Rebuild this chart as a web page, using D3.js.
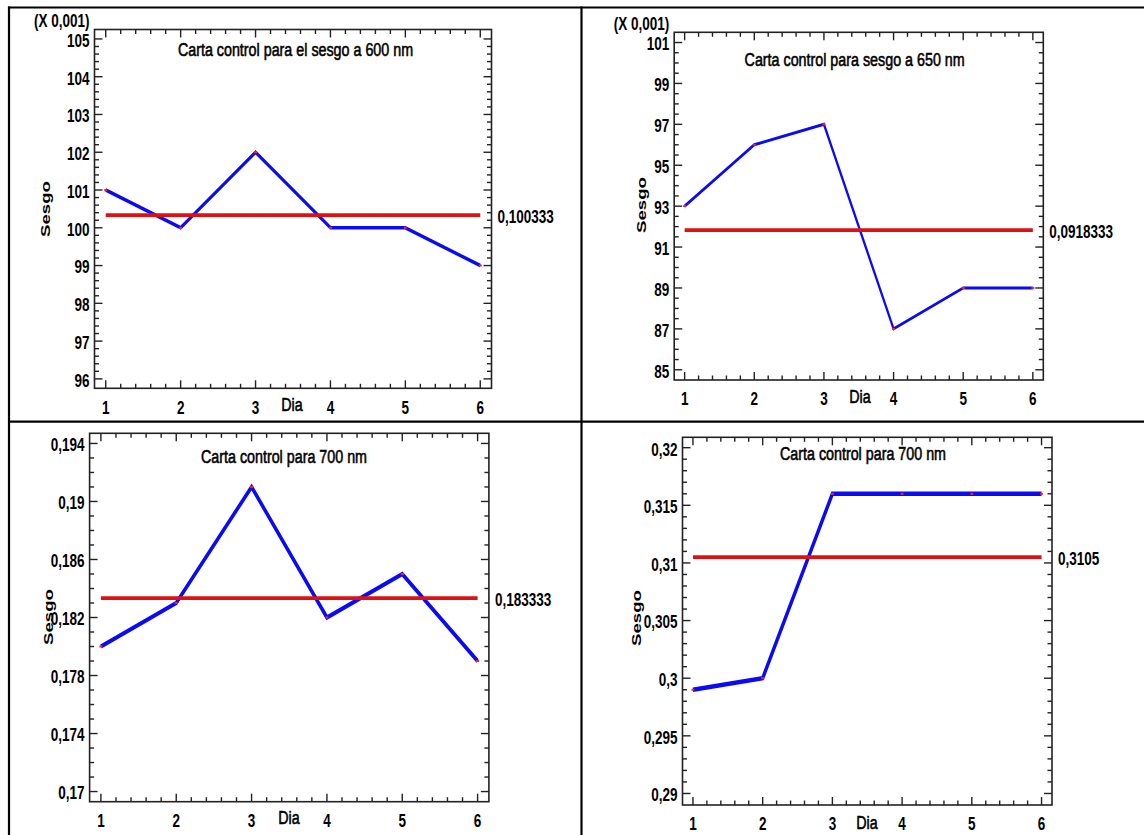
<!DOCTYPE html>
<html>
<head>
<meta charset="utf-8">
<script src="https://cdn.jsdelivr.net/npm/d3@7"></script>
<style>
  html, body { margin: 0; padding: 0; background: #fff; }
  svg { display: block; }
  text { font-family: "Liberation Sans", Arial, sans-serif; fill: #000; }
</style>
</head>
<body>
<svg id="chart" width="1144" height="835"></svg>
<script>
// Días de muestreo
const days = [1, 2, 3, 4, 5, 6];

// Sesgo diario por longitud de onda
const sesgo600 = [0.101, 0.100, 0.102, 0.100, 0.100, 0.099];
const sesgo650 = [0.093, 0.096, 0.097, 0.087, 0.089, 0.089];
const sesgo700a = [0.180, 0.183, 0.191, 0.182, 0.185, 0.179];
const sesgo700b = [0.299, 0.300, 0.316, 0.316, 0.316, 0.316];

// Línea central (media) de cada carta, tal como se rotula
const centerLabels = ["0,100333", "0,0918333", "0,183333", "0,3105"];

// Títulos
const titles = [
  "Carta control para el sesgo a 600 nm",
  "Carta control para sesgo a 650 nm",
  "Carta control para 700 nm",
  "Carta control para 700 nm"
];

// Marcas del eje Y (valores reales)
const yTicks600 = [0.096, 0.097, 0.098, 0.099, 0.100, 0.101, 0.102, 0.103, 0.104, 0.105];
const yTicks650 = [0.085, 0.087, 0.089, 0.091, 0.093, 0.095, 0.097, 0.099, 0.101];
const yTicks700a = [0.170, 0.174, 0.178, 0.182, 0.186, 0.190, 0.194];
const yTicks700b = [0.290, 0.295, 0.300, 0.305, 0.310, 0.315, 0.320];

const parseComma = s => +s.replace(",", ".");

// Vertical stretch applied to text and data strokes
const STRETCH = 1.38;

const panels = [
  { values: sesgo600, ticks: yTicks600, minor: 0.0002, mult: 0.001, yDomain: [0.09575, 0.10525],
    x0: 94.5, x1: 491.5, y0: 29.5, y1: 388.3, title: titles[0], center: centerLabels[0],
    titleXY: [295.5, 49.5], diaXY: [292, 405], sesgoXY: [45, 209], blueW: 2.6 },
  { values: sesgo650, ticks: yTicks650, minor: 0.0005, mult: 0.001, yDomain: [0.0845, 0.1015],
    x0: 674.2, x1: 1043.3, y0: 32.3, y1: 380, title: titles[1], center: centerLabels[1],
    titleXY: [854.6, 60], diaXY: [860, 396.5], sesgoXY: [641, 205], blueW: 2.2 },
  { values: sesgo700a, ticks: yTicks700a, minor: 0.001, mult: 1, yDomain: [0.1693, 0.1947],
    x0: 89.6, x1: 488.9, y0: 433.3, y1: 801.7, title: titles[2], center: centerLabels[2],
    titleXY: [284, 456.7], diaXY: [289, 818], sesgoXY: [48, 617], blueW: 3.2 },
  { values: sesgo700b, ticks: yTicks700b, minor: 0.001, mult: 1, yDomain: [0.289, 0.3209],
    x0: 682.5, x1: 1052, y0: 437.3, y1: 805, title: titles[3], center: centerLabels[3],
    titleXY: [863, 454], diaXY: [867, 823], sesgoXY: [635.8, 618], blueW: 3.3 }
];

const svg = d3.select("#chart");

// Table grid around the four charts
const grid = svg.append("g").attr("stroke", "#000").attr("stroke-width", 2.2);
grid.append("line").attr("x1", 8).attr("x2", 1144).attr("y1", 7.5).attr("y2", 7.5);
grid.append("line").attr("x1", 9).attr("x2", 9).attr("y1", 6.5).attr("y2", 835);
grid.append("line").attr("x1", 581.5).attr("x2", 581.5).attr("y1", 6.5).attr("y2", 835);
grid.append("line").attr("x1", 8).attr("x2", 1144).attr("y1", 421.7).attr("y2", 421.7);

function label(g, x, y, str, opts) {
  const o = Object.assign({ size: 13.5, weight: "bold", anchor: "middle", rotate: 0, sx: 1, sy: STRETCH, halo: 0 }, opts);
  const t = g.append("text")
    .attr("transform", `translate(${x},${y}) rotate(${o.rotate}) scale(${o.sx},${o.sy})`)
    .attr("text-anchor", o.anchor)
    .attr("dominant-baseline", "central")
    .attr("font-size", o.size)
    .attr("font-weight", o.weight)
    .text(str);
  if (o.halo) t.attr("stroke", "#000").attr("stroke-width", o.halo);
  return t;
}

const fmt = (v, mult) => {
  const d = Math.round(v / mult * 1e6) / 1e6;
  return String(d).replace(".", ",");
};

panels.forEach(p => {
  const g = svg.append("g");
  const x = d3.scaleLinear().domain([0.85, 6.15]).range([p.x0, p.x1]);
  const y = d3.scaleLinear().domain(p.yDomain).range([p.y1, p.y0]);

  // Inward tick marks on all four sides
  const xMinor = d3.range(1, 6.0001, 0.2).filter(v => Math.abs(v - Math.round(v)) > 1e-6);
  const yMinor = d3.range(p.ticks[0], p.ticks[p.ticks.length - 1] + 1e-9, p.minor)
    .filter(v => !p.ticks.some(t => Math.abs(t - v) < 1e-9));

  const tg = g.append("g").attr("stroke", "#222").attr("stroke-width", 1.4);
  const majorLen = 8, minorLen = 4.5;
  [[days, majorLen], [xMinor, minorLen]].forEach(([vals, len]) => {
    vals.forEach(v => {
      tg.append("line").attr("x1", x(v)).attr("x2", x(v)).attr("y1", p.y1).attr("y2", p.y1 - len);
      tg.append("line").attr("x1", x(v)).attr("x2", x(v)).attr("y1", p.y0).attr("y2", p.y0 + len);
    });
  });
  [[p.ticks, majorLen], [yMinor, minorLen]].forEach(([vals, len]) => {
    vals.forEach(v => {
      tg.append("line").attr("x1", p.x0).attr("x2", p.x0 + len).attr("y1", y(v)).attr("y2", y(v));
      tg.append("line").attr("x1", p.x1).attr("x2", p.x1 - len).attr("y1", y(v)).attr("y2", y(v));
    });
  });

  // Plot frame
  g.append("rect")
    .attr("x", p.x0).attr("y", p.y0)
    .attr("width", p.x1 - p.x0).attr("height", p.y1 - p.y0)
    .attr("fill", "none").attr("stroke", "#222").attr("stroke-width", 1.6);

  // Data strokes drawn in an unstretched frame, then stretched vertically
  const h = (p.y1 - p.y0) / STRETCH;
  const ys = d3.scaleLinear().domain(p.yDomain).range([h, 0]);
  const dg = g.append("g").attr("transform", `translate(0,${p.y0}) scale(1,${STRETCH})`);

  const line = d3.line().x((d, i) => x(days[i])).y(d => ys(d));
  dg.append("path")
    .attr("d", line(p.values))
    .attr("fill", "none")
    .attr("stroke", "#0a0af5")
    .attr("stroke-width", p.blueW)
    .attr("stroke-linejoin", "miter");

  const c = parseComma(p.center);
  dg.append("line")
    .attr("x1", x(days[0])).attr("x2", x(days[days.length - 1]))
    .attr("y1", ys(c)).attr("y2", ys(c))
    .attr("stroke", "#e01010").attr("stroke-width", 2.7);

  // Small red markers at each observation
  g.selectAll(null).data(p.values).join("rect")
    .attr("x", (d, i) => x(days[i]) - 1.5)
    .attr("y", d => y(d) - 1)
    .attr("width", 3).attr("height", 2)
    .attr("fill", "#ff2020");

  // Axis labels
  p.ticks.forEach(v => label(g, p.x0 - 5, y(v) + 1, fmt(v, p.mult), { anchor: "end" }));
  days.forEach(d => label(g, x(d), p.y1 + 18.5, String(d)));
  label(g, p.diaXY[0], p.diaXY[1], "Dia", { weight: "normal", size: 14.3, sy: 1.3, halo: 0.45 });
  label(g, p.titleXY[0], p.titleXY[1], p.title, { weight: "normal", size: 14.3, sy: 1.3, halo: 0.45 });
  label(g, p.sesgoXY[0], p.sesgoXY[1], "Sesgo", { rotate: -90, sx: STRETCH, sy: 1 });
  label(g, p.x1 + 6, y(c) + 1, p.center, { anchor: "start" });
  if (p.mult !== 1) {
    label(g, p.x0 - 5, p.y0 - 9, "(X 0,001)", { anchor: "end" });
  }
});
</script>
</body>
</html>
